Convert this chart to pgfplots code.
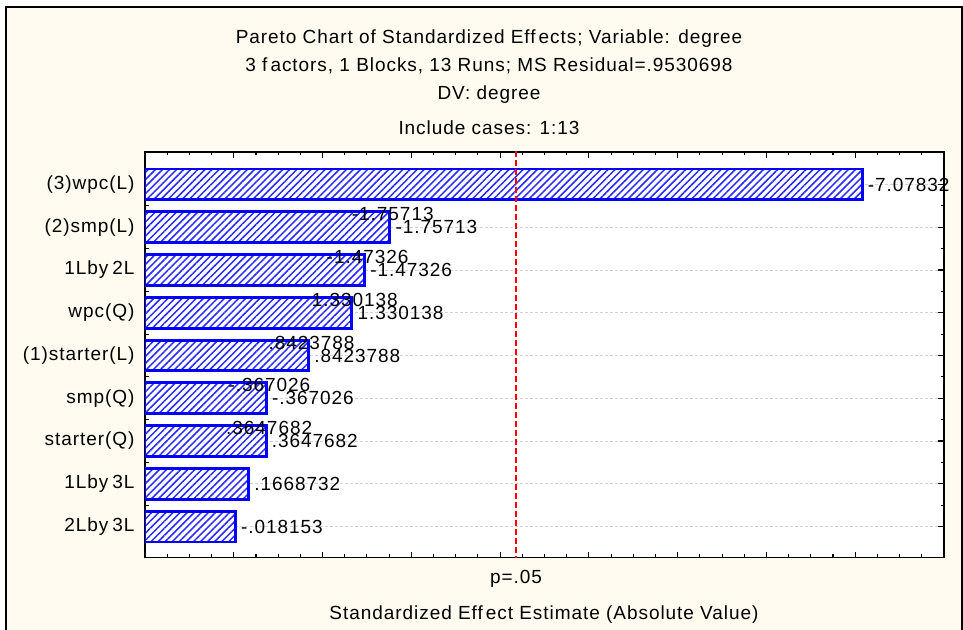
\documentclass[border=0pt]{standalone}
\usepackage{pgfplots}
\pgfplotsset{compat=1.18}
\usepackage{pgfplotstable}
\usetikzlibrary{patterns.meta}
\usepackage{fontspec}
\setmainfont{Liberation Sans}[LetterSpace=5]
\definecolor{cream}{RGB}{255,251,240}
\definecolor{barblue}{RGB}{0,0,255}
\definecolor{hatchblue}{RGB}{40,40,255}

\pgfplotstableread[col sep=comma]{
pos,val,lab
1,7.07832,-7.07832
2,1.75713,-1.75713
3,1.47326,-1.47326
4,1.330138,1.330138
5,0.8423788,.8423788
6,0.367026,-.367026
7,0.3647682,.3647682
8,0.1668732,.1668732
9,0.018153,-.018153
}\effects

\pgfplotstableread[col sep=comma]{
pos,val,lab
2,1.75713,-1.75713
3,1.47326,-1.47326
4,1.330138,1.330138
5,0.8423788,.8423788
6,0.367026,-.367026
7,0.3647682,.3647682
}\upper

\begin{document}
\fontsize{19}{23}\selectfont
\begin{tikzpicture}[x=1pt,y=1pt]
\useasboundingbox (0,0) rectangle (963,629);
\fill[white] (0,0) rectangle (963,629);
\fill[cream] (6,-20) rectangle (962,622.3);
\draw[black, line width=2pt] (6,-20) -- (6,622.3) -- (962,622.3) -- (962,-20);

\node[anchor=base] at (489,585) {Pareto Chart of Standardized Eff\kern3pt ects; Variable: degree};
\node[anchor=base] at (489,557) {3 f\kern3pt actors, 1 Blocks, 13 Runs; MS Residual=.9530698};
\node[anchor=base] at (489,529) {DV: degree};
\node[anchor=base] at (489,494) {Include cases: 1:13};
\node[anchor=base] at (516,46) {p=.05};
\node[anchor=base] at (544,9.7) {Standardized Eff\kern3pt ect Estimate (Absolute Value)};

\begin{axis}[at={(145pt,71.4pt)}, anchor=south west, scale only axis,
  width=799pt, height=405.6pt,
  xmin=0, xmax=9, ymin=0.24, ymax=9.727, y dir=reverse,
  xtick={0,1,...,9}, xticklabels={}, minor x tick num=3,
  ytick={1,...,9},
  yticklabels={(3)wpc(L),(2)smp(L),1Lby\kern4pt 2L,wpc(Q),(1)starter(L),smp(Q),starter(Q),1Lby\kern4pt 3L,2Lby\kern4pt 3L},
  yticklabel style={xshift=-4pt},
  minor y tick num=1,
  xtick pos=both, ytick pos=both,
  major tick length=6pt, minor tick length=3.5pt,
  tick style={line width=1.1pt, black},
  axis line style={line width=1.3pt, black},
  axis background/.style={fill=white},
  ymajorgrids,
  major grid style={line width=0.6pt, gray!35, dash pattern=on 3pt off 2pt},
  tick label style={font=\fontsize{19}{23}\selectfont},
  clip mode=individual,
  x filter/.expression={x+1},
]
\addplot[xbar, bar width=0.72, bar shift=0pt, draw=barblue, line width=2.8pt,
  preaction={fill=white},
  pattern={Lines[angle=45, distance=5pt, line width=1.5pt]}, pattern color=hatchblue,
  nodes near coords, point meta=explicit symbolic,
  every node near coord/.append style={font=\fontsize{19}{23}\selectfont, text=black, anchor=west, xshift=-2pt}]
  table[x=val, y=pos, meta=lab] {\effects};
\addplot[only marks, mark=*, mark size=0pt, mark options={draw=none, fill=none},
  nodes near coords, point meta=explicit symbolic,
  every node near coord/.append style={font=\fontsize{19}{23}\selectfont, text=black, anchor=center, xshift=3pt, yshift=13pt}]
  table[x=val, y=pos, meta=lab] {\upper};
\addplot[red, line width=2pt, dash pattern=on 6pt off 3pt] coordinates {(3.182446,0) (3.182446,10)};
\end{axis}
\end{tikzpicture}
\end{document}
